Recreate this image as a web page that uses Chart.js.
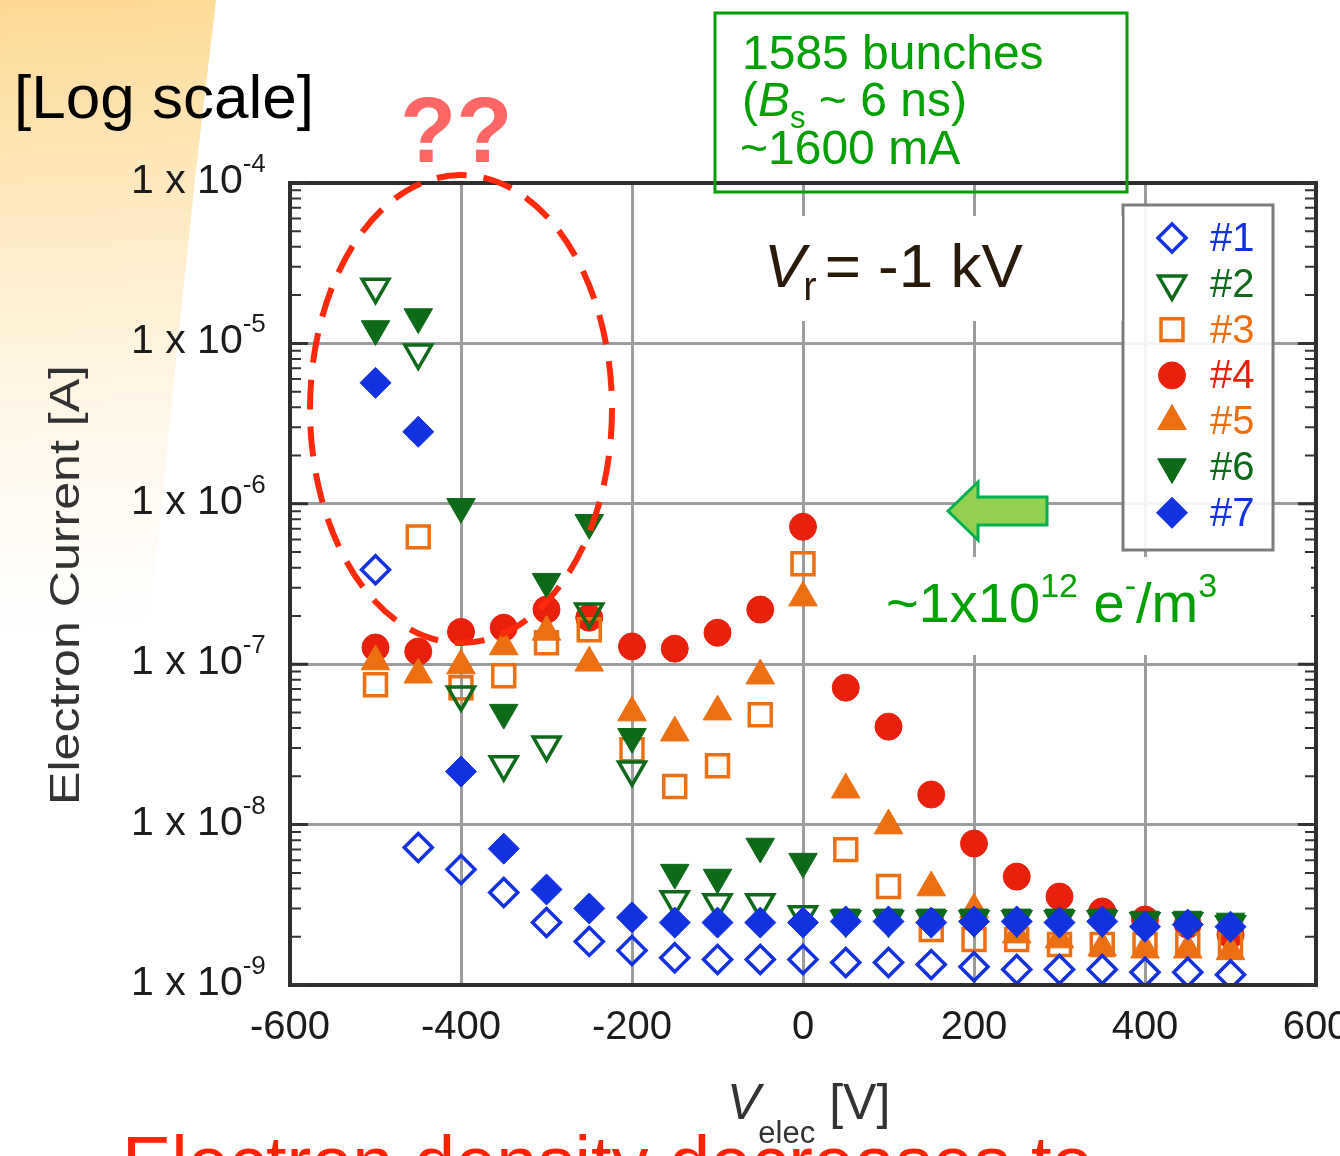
<!DOCTYPE html>
<html>
<head>
<meta charset="utf-8">
<title>Electron current vs. electrode voltage</title>
<script src="https://cdn.jsdelivr.net/npm/chart.js@4.4.1/dist/chart.umd.min.js"></script>
<style>
  html, body { margin: 0; padding: 0; background: #ffffff; }
  canvas { display: block; }
</style>
</head>
<body>
<canvas id="chart" width="1340" height="1156"></canvas>
<script>
// Electrode voltage V_elec [V]
const vElec = [-500, -450, -400, -350, -300, -250, -200, -150, -100, -50, 0,
               50, 100, 150, 200, 250, 300, 350, 400, 450, 500];

// Electron current [A] for detectors #1 .. #7
const cur1 = [3.88e-7, 7.19e-9, 5.25e-9, 3.77e-9, 2.45e-9, 1.87e-9, 1.64e-9, 1.48e-9, 1.44e-9, 1.44e-9, 1.44e-9,
              1.38e-9, 1.38e-9, 1.34e-9, 1.30e-9, 1.25e-9, 1.25e-9, 1.25e-9, 1.20e-9, 1.20e-9, 1.16e-9];
const cur2 = [2.25e-5, 8.73e-6, 6.46e-8, 2.37e-8, 3.15e-8, 2.12e-7, 2.20e-8, 3.41e-9, 3.27e-9, 3.27e-9, 2.75e-9,
              2.56e-9, 2.56e-9, 2.56e-9, 2.56e-9, 2.56e-9, 2.56e-9, 2.56e-9, 2.49e-9, 2.49e-9, 2.38e-9];
const cur3 = [7.45e-8, 6.22e-7, 7.14e-8, 8.48e-8, 1.36e-7, 1.64e-7, 2.93e-8, 1.73e-8, 2.33e-8, 4.84e-8, 4.23e-7,
              6.98e-9, 4.11e-9, 2.22e-9, 1.92e-9, 1.92e-9, 1.79e-9, 1.79e-9, 1.79e-9, 1.79e-9, 1.79e-9];
const cur4 = [1.27e-7, 1.20e-7, 1.59e-7, 1.69e-7, 2.19e-7, 1.95e-7, 1.29e-7, 1.25e-7, 1.57e-7, 2.19e-7, 7.19e-7,
              7.14e-8, 4.08e-8, 1.54e-8, 7.62e-9, 4.74e-9, 3.56e-9, 2.87e-9, 2.56e-9, 2.38e-9, 2.06e-9];
const cur5 = [1.04e-7, 8.60e-8, 9.80e-8, 1.29e-7, 1.59e-7, 1.02e-7, 4.99e-8, 3.74e-8, 5.06e-8, 8.48e-8, 2.60e-7,
              1.65e-8, 9.86e-9, 4.05e-9, 2.95e-9, 2.06e-9, 1.92e-9, 1.71e-9, 1.66e-9, 1.66e-9, 1.62e-9];
const cur6 = [1.23e-5, 1.46e-5, 9.58e-7, 4.99e-8, 3.27e-7, 7.62e-7, 3.53e-8, 5.02e-9, 4.68e-9, 7.30e-9, 5.88e-9,
              2.64e-9, 2.64e-9, 2.64e-9, 2.64e-9, 2.64e-9, 2.64e-9, 2.64e-9, 2.56e-9, 2.56e-9, 2.49e-9];
const cur7 = [5.68e-6, 2.81e-6, 2.14e-8, 7.08e-9, 3.94e-9, 3.00e-9, 2.64e-9, 2.45e-9, 2.45e-9, 2.45e-9, 2.45e-9,
              2.49e-9, 2.49e-9, 2.45e-9, 2.49e-9, 2.49e-9, 2.45e-9, 2.49e-9, 2.31e-9, 2.38e-9, 2.31e-9];

const seriesNames = ['#1', '#2', '#3', '#4', '#5', '#6', '#7'];

// Axis ticks
const xTicks = [-600, -400, -200, 0, 200, 400, 600];
const yDecades = [1e-4, 1e-5, 1e-6, 1e-7, 1e-8, 1e-9];
const yExponents = ['-4', '-5', '-6', '-7', '-8', '-9'];

const FONT = '"Liberation Sans", Arial, Helvetica, sans-serif';
const BLUE = '#1232e2';
const DGREEN = '#0c6a18';
const ORANGE = '#ec6f12';
const RED = '#e8200c';
const NONE = 'rgba(255,255,255,0)';

function pts(vals) { return vElec.map((v, i) => ({ x: v, y: vals[i] })); }

// marker look per detector
const markerStyle = [
  { style: 'rectRot',  rot: 0,   r: 14,   fill: NONE,   stroke: BLUE,   lw: 3.5, order: 2 },
  { style: 'triangle', rot: 180, r: 15.5, fill: NONE,   stroke: DGREEN, lw: 3.5, order: 4 },
  { style: 'rect',     rot: 0,   r: 15.5, fill: NONE,   stroke: ORANGE, lw: 3.5, order: 5 },
  { style: 'circle',   rot: 0,   r: 13.5, fill: RED,    stroke: RED,    lw: 1,   order: 7 },
  { style: 'triangle', rot: 0,   r: 16.5, fill: ORANGE, stroke: ORANGE, lw: 1,   order: 6 },
  { style: 'triangle', rot: 180, r: 16.5, fill: DGREEN, stroke: DGREEN, lw: 1,   order: 3 },
  { style: 'rectRot',  rot: 0,   r: 15.5, fill: BLUE,   stroke: BLUE,   lw: 1,   order: 1 }
];
const textColors = [BLUE, DGREEN, ORANGE, RED, ORANGE, DGREEN, BLUE];
const allSeries = [cur1, cur2, cur3, cur4, cur5, cur6, cur7];

const datasets = allSeries.map((vals, i) => {
  const m = markerStyle[i];
  return {
    label: seriesNames[i],
    data: pts(vals),
    showLine: false,
    pointStyle: m.style,
    rotation: m.rot,
    pointRotation: m.rot,
    pointRadius: m.r,
    pointHoverRadius: m.r,
    pointBorderWidth: m.lw,
    pointBackgroundColor: m.fill,
    pointBorderColor: m.stroke,
    order: m.order
  };
});

// draws a text made of pieces (sub/superscripts, italics)
function drawRuns(ctx, x, y, parts, color) {
  ctx.fillStyle = color;
  ctx.textBaseline = 'alphabetic';
  ctx.textAlign = 'left';
  for (const p of parts) {
    ctx.font = p.font;
    ctx.fillText(p.t, x, y + (p.dy || 0));
    x += ctx.measureText(p.t).width + (p.gap || 0);
  }
  return x;
}

// legend symbol shapes
function legendMarker(ctx, m, x, y) {
  const r = m.r;
  ctx.save();
  ctx.beginPath();
  if (m.style === 'circle') {
    ctx.arc(x, y, r, 0, Math.PI * 2);
  } else if (m.style === 'rectRot') {
    ctx.moveTo(x - r, y); ctx.lineTo(x, y - r); ctx.lineTo(x + r, y); ctx.lineTo(x, y + r);
    ctx.closePath();
  } else if (m.style === 'rect') {
    const h = r * Math.SQRT1_2;
    ctx.rect(x - h, y - h, 2 * h, 2 * h);
  } else if (m.style === 'triangle') {
    let a = m.rot * Math.PI / 180;
    for (let k = 0; k < 3; k++) {
      const px = x + Math.sin(a) * r, py = y - Math.cos(a) * r;
      if (k === 0) ctx.moveTo(px, py); else ctx.lineTo(px, py);
      a += 2 * Math.PI / 3;
    }
    ctx.closePath();
  }
  ctx.fillStyle = m.fill;
  ctx.fill();
  ctx.lineWidth = m.lw;
  ctx.strokeStyle = m.stroke;
  ctx.stroke();
  ctx.restore();
}

const backdrop = {
  id: 'backdrop',
  beforeDraw(chart) {
    const ctx = chart.ctx;
    ctx.save();
    ctx.fillStyle = '#ffffff';
    ctx.fillRect(0, 0, chart.width, chart.height);
    // soft orange slide decoration, top left
    ctx.beginPath();
    ctx.moveTo(0, 0);
    ctx.lineTo(216, 0);
    ctx.lineTo(196, 170);
    ctx.lineTo(178, 340);
    ctx.lineTo(150, 620);
    ctx.lineTo(0, 720);
    ctx.closePath();
    const g = ctx.createLinearGradient(0, 0, 40, 700);
    g.addColorStop(0, 'rgba(253,212,135,0.9)');
    g.addColorStop(0.35, 'rgba(254,228,175,0.7)');
    g.addColorStop(0.75, 'rgba(255,242,220,0.3)');
    g.addColorStop(1, 'rgba(255,255,255,0)');
    ctx.fillStyle = g;
    ctx.fill();
    ctx.restore();
  }
};

const axesDecor = {
  id: 'axesDecor',
  afterDatasetsDraw(chart) {
    const ctx = chart.ctx;
    const a = chart.chartArea;
    const ys = chart.scales.y;
    ctx.save();
    // plot frame
    ctx.strokeStyle = '#2e2e2e';
    ctx.lineWidth = 4;
    ctx.strokeRect(a.left, a.top, a.right - a.left, a.bottom - a.top);
    // minor log ticks on left and right edges
    ctx.lineWidth = 2;
    ctx.strokeStyle = '#333333';
    for (let d = 1; d < yDecades.length; d++) {
      const dec = yDecades[d];
      for (let m = 2; m <= 9; m++) {
        const y = ys.getPixelForValue(m * dec);
        ctx.beginPath();
        ctx.moveTo(a.left, y); ctx.lineTo(a.left + 11, y);
        ctx.moveTo(a.right, y); ctx.lineTo(a.right - 11, y);
        ctx.stroke();
      }
    }
    // major ticks
    ctx.lineWidth = 3;
    for (const dec of yDecades) {
      const y = ys.getPixelForValue(dec);
      ctx.beginPath();
      ctx.moveTo(a.left, y); ctx.lineTo(a.left + 18, y);
      ctx.moveTo(a.right, y); ctx.lineTo(a.right - 18, y);
      ctx.stroke();
    }
    // decade labels "1 x 10^n"
    yDecades.forEach((dec, i) => {
      const y = ys.getPixelForValue(dec);
      drawRuns(ctx, 131, y + 10, [
        { t: '1 x 10', font: '41px ' + FONT },
        { t: yExponents[i], font: '26px ' + FONT, dy: -21 }
      ], '#1c1c1c');
    });
    // axis titles
    ctx.save();
    ctx.translate(79, 585);
    ctx.rotate(-Math.PI / 2);
    ctx.font = '42px ' + FONT;
    const ttl = 'Electron Current [A]';
    const w = ctx.measureText(ttl).width;
    ctx.scale(440 / w, 1);
    ctx.fillStyle = '#333333';
    ctx.textAlign = 'center';
    ctx.textBaseline = 'alphabetic';
    ctx.fillText(ttl, 0, 0);
    ctx.restore();

    let x = drawRuns(ctx, 727, 1119, [
      { t: 'V', font: 'italic 50px ' + FONT }
    ], '#333333');
    x = drawRuns(ctx, x - 2, 1143, [{ t: 'elec', font: '31px ' + FONT }], '#333333');
    drawRuns(ctx, x + 14, 1119, [{ t: '[V]', font: '50px ' + FONT }], '#333333');
    ctx.restore();
  }
};

const annotations = {
  id: 'annotations',
  afterDraw(chart) {
    const ctx = chart.ctx;
    ctx.save();

    // legend box
    ctx.fillStyle = 'rgba(255,255,255,0.9)';
    ctx.fillRect(1123, 205, 150, 345);
    ctx.strokeStyle = '#7c7c7c';
    ctx.lineWidth = 3;
    ctx.strokeRect(1123, 205, 150, 345);
    seriesNames.forEach((name, i) => {
      const y = 238 + i * 45.8;
      legendMarker(ctx, markerStyle[i], 1172, y);
      ctx.font = '40px ' + FONT;
      ctx.fillStyle = textColors[i];
      ctx.textAlign = 'left';
      ctx.textBaseline = 'middle';
      ctx.fillText(name, 1210, y + 2);
    });

    // "[Log scale]"
    drawRuns(ctx, 14, 118, [{ t: '[Log scale]', font: '62px ' + FONT }], '#000000');

    // "??"
    drawRuns(ctx, 400, 162, [{ t: '??', font: 'bold 92px ' + FONT }], '#ff6666');

    // dashed ellipse around the large negative-voltage readings
    ctx.beginPath();
    ctx.ellipse(461, 409, 151, 234, 0, 0, Math.PI * 2);
    ctx.setLineDash([30, 17]);
    ctx.lineWidth = 6;
    ctx.strokeStyle = '#ff2a0c';
    ctx.stroke();
    ctx.setLineDash([]);

    // beam condition box
    ctx.strokeStyle = '#00a000';
    ctx.lineWidth = 3;
    ctx.strokeRect(715, 13, 412, 179);
    const G = '#00a000';
    drawRuns(ctx, 742, 69, [{ t: '1585 bunches', font: '48px ' + FONT }], G);
    drawRuns(ctx, 742, 116, [
      { t: '(', font: '48px ' + FONT },
      { t: 'B', font: 'italic 48px ' + FONT },
      { t: 's', font: '31px ' + FONT, dy: 12 },
      { t: ' ~ 6 ns)', font: '48px ' + FONT }
    ], G);
    drawRuns(ctx, 740, 164, [{ t: '~1600 mA', font: '48px ' + FONT }], G);

    // retarding voltage label
    ctx.fillStyle = '#ffffff';
    ctx.fillRect(736, 216, 386, 105);
    let x = drawRuns(ctx, 764, 287, [{ t: 'V', font: 'italic 62px ' + FONT }], '#2a1a0a');
    x = drawRuns(ctx, x - 2, 300, [{ t: 'r', font: '40px ' + FONT }], '#2a1a0a');
    drawRuns(ctx, x + 8, 287, [{ t: '= -1 kV', font: '62px ' + FONT }], '#2a1a0a');

    // arrow pointing at the 1e-6 level
    ctx.beginPath();
    ctx.moveTo(948, 511);
    ctx.lineTo(978, 482);
    ctx.lineTo(978, 497);
    ctx.lineTo(1047, 497);
    ctx.lineTo(1047, 525);
    ctx.lineTo(978, 525);
    ctx.lineTo(978, 540);
    ctx.closePath();
    ctx.fillStyle = '#92d050';
    ctx.fill();
    ctx.strokeStyle = '#00b050';
    ctx.lineWidth = 3;
    ctx.stroke();

    // electron density label
    ctx.fillStyle = '#ffffff';
    ctx.fillRect(855, 557, 456, 98);
    drawRuns(ctx, 886, 622, [
      { t: '~1x10', font: '56px ' + FONT },
      { t: '12', font: '34px ' + FONT, dy: -25 },
      { t: ' e', font: '56px ' + FONT },
      { t: '-', font: '34px ' + FONT, dy: -25 },
      { t: '/m', font: '56px ' + FONT },
      { t: '3', font: '34px ' + FONT, dy: -25 }
    ], '#00a000');

    // caption running off the bottom edge
    drawRuns(ctx, 122, 1188, [{ t: 'Electron density decreases to', font: '74px ' + FONT }], '#ff2200');

    ctx.restore();
  }
};

new Chart(document.getElementById('chart'), {
  type: 'scatter',
  data: { datasets },
  options: {
    responsive: false,
    animation: false,
    devicePixelRatio: 1,
    layout: { padding: { top: 183, right: 24, left: 0, bottom: 0 }, autoPadding: false },
    plugins: { legend: { display: false }, tooltip: { enabled: false } },
    scales: {
      x: {
        type: 'linear',
        min: -600,
        max: 600,
        afterFit(scale) {
          scale.height = 171;
          scale.paddingLeft = 0;
          scale.paddingRight = 0;
        },
        afterBuildTicks(scale) { scale.ticks = xTicks.map(v => ({ value: v })); },
        ticks: {
          font: { family: FONT, size: 40 },
          color: '#1c1c1c',
          padding: 19,
          maxRotation: 0,
          autoSkip: false
        },
        grid: {
          drawTicks: false,
          lineWidth: 3,
          color: c => (c.tick && Math.abs(c.tick.value) < 600) ? '#9c9c9c' : NONE
        },
        border: { display: false }
      },
      y: {
        type: 'logarithmic',
        min: 1e-9,
        max: 1e-4,
        afterFit(scale) {
          scale.width = 290;
          scale.paddingTop = 0;
          scale.paddingBottom = 0;
        },
        afterBuildTicks(scale) { scale.ticks = yDecades.map(v => ({ value: v })); },
        ticks: { callback: () => '', padding: 0 },
        grid: { drawTicks: false, lineWidth: 3, color: '#9c9c9c' },
        border: { display: false }
      }
    }
  },
  plugins: [backdrop, axesDecor, annotations]
});
</script>
</body>
</html>
